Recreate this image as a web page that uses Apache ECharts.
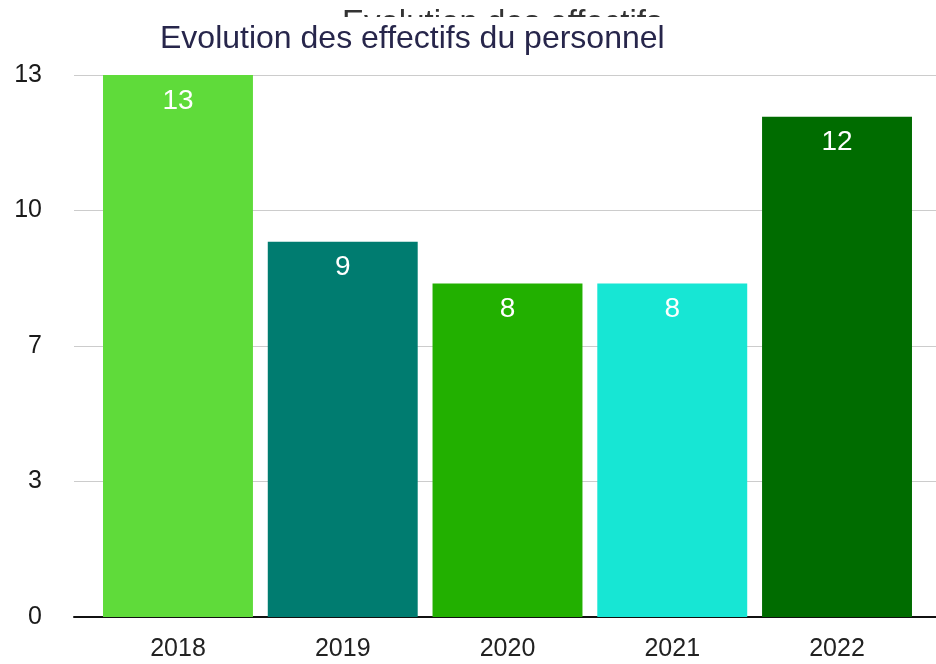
<!DOCTYPE html>
<html>
<head>
<meta charset="utf-8">
<title>Evolution des effectifs du personnel</title>
<script src="https://cdn.jsdelivr.net/npm/echarts@6/dist/echarts.min.js"></script>
<style>
  html, body { margin: 0; padding: 0; background: #fff; }
  #main { width: 936px; height: 664px; }
</style>
</head>
<body>
<!-- conteneur du graphique -->
<div id="main"></div>
<script>
// données
var years = ['2018', '2019', '2020', '2021', '2022']
var effectifs = [13, 9, 8, 8, 12]
var barColors = ['#5fdb3a', '#007c70', '#22b000', '#17e6d4', '#006c00']
var yTickLabels = ['0', '3', '7', '10', '13']

var myChart = echarts.init(document.getElementById('main'))

var option = {
  animation: false,
  backgroundColor: '#fff',
  // ancien titre coupé en haut + titre
  graphic: [
    {
      type: 'text',
      left: 342,
      top: 7,
      z: 1,
      style: {
        text: 'Evolution des effectifs',
        font: '33px "Liberation Sans", Arial, sans-serif',
        fill: '#333'
      }
    },
    {
      type: 'rect',
      left: 0,
      top: 17,
      z: 2,
      shape: { width: 936, height: 36 },
      style: { fill: '#fff' }
    },
    {
      type: 'text',
      left: 160,
      top: 23,
      z: 3,
      style: {
        text: 'Evolution des effectifs du personnel',
        font: '32px "Liberation Sans", Arial, sans-serif',
        fill: '#27264b'
      }
    }
  ],
  grid: [
    { left: 74, right: 0, top: 75, bottom: 47 },
    { left: 95.6, right: 16.6, top: 75, bottom: 47 }
  ],
  xAxis: [
    {
      gridIndex: 0,
      type: 'category',
      data: years,
      axisLine: { lineStyle: { color: '#111', width: 2 } },
      axisTick: { show: false },
      axisLabel: { show: false }
    },
    {
      gridIndex: 1,
      type: 'category',
      data: years,
      axisLine: { show: false },
      axisTick: { show: false },
      axisLabel: {
        margin: 20,
        color: '#222',
        fontSize: 25,
        fontFamily: '"Liberation Sans", Arial, sans-serif'
      }
    }
  ],
  yAxis: [
    {
      gridIndex: 0,
      type: 'value',
      min: 0,
      max: 13,
      interval: 3.25,
      axisLine: { show: false },
      axisTick: { show: false },
      axisLabel: {
        margin: 32,
        color: '#1a1a1a',
        fontSize: 25,
        padding: [4, 0, 0, 0],
        fontFamily: '"Liberation Sans", Arial, sans-serif',
        formatter: function (value, index) {
          return yTickLabels[index]
        }
      },
      splitLine: { lineStyle: { color: '#cccccc', width: 1 } }
    },
    {
      gridIndex: 1,
      type: 'value',
      min: 0,
      max: 13,
      show: false
    }
  ],
  series: [
    {
      type: 'bar',
      xAxisIndex: 1,
      yAxisIndex: 1,
      barWidth: '91%',
      data: effectifs.map(function (v, i) {
        return { value: v, itemStyle: { color: barColors[i] } }
      }),
      label: {
        show: true,
        position: 'insideTop',
        distance: 12,
        color: '#fff',
        fontSize: 28,
        fontFamily: '"Liberation Sans", Arial, sans-serif'
      }
    }
  ]
}

myChart.setOption(option)
</script>
</body>
</html>
